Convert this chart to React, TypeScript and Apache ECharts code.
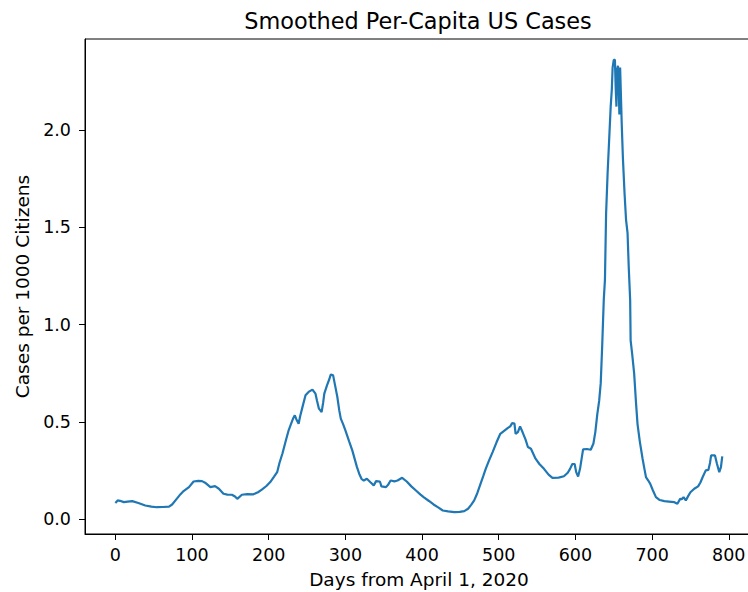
import React, { useEffect, useRef } from "react";
import * as echarts from "echarts";

const days = [
  0, 3, 6, 11, 16, 22, 30, 39, 47, 54, 62, 70, 74, 80, 85, 89, 96, 102, 108, 113,
  117, 124, 130, 135, 141, 146, 152, 156, 159, 165, 172, 180, 186, 191, 197, 202, 207, 211, 214, 218,
  222, 226, 229, 232, 234, 236, 239, 241, 244, 248, 252, 257, 261, 263, 265.5, 269, 271, 272.5, 276, 279,
  281, 284, 286.5, 289.5, 292, 294, 297, 300, 305, 309, 315, 318, 321, 324, 328, 333, 337, 340, 345, 347,
  353, 356, 359, 364, 368, 374, 380, 386, 392, 398, 402, 409, 415, 421, 427, 434, 442, 449, 455, 460,
  464, 468, 472, 476, 480, 483, 487, 492, 497, 502, 507, 512, 515, 517.5, 520.5, 522, 525, 527.8, 531, 535,
  538, 542, 548, 553, 559, 565, 570, 578, 585, 590, 593, 596, 599, 601, 603.5, 606, 608, 610, 615, 620,
  623.5, 626, 628.5, 631, 633, 635, 637, 638.5, 640, 642, 644, 646, 647.5, 648.5, 650, 651.5, 652.5, 653.5, 654.5, 655.5,
  656.5, 657.3, 658.3, 659.4, 660.4, 662, 664, 666, 668, 669.5, 671.4, 672, 674, 676.6, 679, 681, 684, 687.6, 690, 692,
  695, 697.6, 701, 705, 710, 716, 722, 729, 733, 736.6, 739, 741, 744, 747, 750, 755, 760, 763, 766, 770,
  773.5, 775.5, 777, 782, 784.6, 787.6, 789.8, 791.5,
];

const casesPer1000 = [
  0.085, 0.098, 0.096, 0.089, 0.092, 0.094, 0.085, 0.072, 0.066, 0.063, 0.064, 0.066, 0.077, 0.106, 0.13, 0.146, 0.166, 0.195, 0.198, 0.197,
  0.189, 0.166, 0.171, 0.158, 0.132, 0.128, 0.127, 0.118, 0.106, 0.127, 0.13, 0.129, 0.14, 0.153, 0.172, 0.192, 0.22, 0.243, 0.29, 0.34,
  0.4, 0.458, 0.49, 0.52, 0.535, 0.515, 0.492, 0.53, 0.577, 0.638, 0.655, 0.667, 0.646, 0.61, 0.569, 0.552, 0.6, 0.646, 0.689, 0.72,
  0.745, 0.74, 0.69, 0.629, 0.56, 0.518, 0.49, 0.458, 0.4, 0.355, 0.27, 0.235, 0.209, 0.2, 0.209, 0.19, 0.175, 0.197, 0.195, 0.17,
  0.166, 0.18, 0.2, 0.196, 0.2, 0.214, 0.195, 0.17, 0.149, 0.128, 0.115, 0.095, 0.077, 0.062, 0.046, 0.042, 0.038, 0.039, 0.043, 0.055,
  0.075, 0.098, 0.135, 0.18, 0.225, 0.26, 0.3, 0.346, 0.395, 0.44, 0.455, 0.47, 0.478, 0.495, 0.492, 0.44, 0.449, 0.478, 0.449, 0.41,
  0.372, 0.363, 0.312, 0.285, 0.26, 0.23, 0.214, 0.215, 0.222, 0.24, 0.26, 0.285, 0.285, 0.243, 0.221, 0.26, 0.31, 0.36, 0.362, 0.358,
  0.39, 0.45, 0.54, 0.61, 0.7, 0.9, 1.13, 1.23, 1.57, 1.78, 1.95, 2.12, 2.21, 2.32, 2.36, 2.36, 2.22, 2.12, 2.31, 2.33,
  2.22, 2.08, 2.32, 2.17, 2.03, 1.85, 1.68, 1.54, 1.47, 1.3, 1.126, 0.92, 0.85, 0.75, 0.6, 0.49, 0.4, 0.312, 0.26, 0.218,
  0.2, 0.183, 0.15, 0.115, 0.1, 0.094, 0.092, 0.089, 0.081, 0.106, 0.105, 0.115, 0.098, 0.12, 0.14, 0.158, 0.17, 0.19, 0.218, 0.252,
  0.255, 0.29, 0.329, 0.329, 0.286, 0.243, 0.269, 0.324,
];

const xTicks = [0, 100, 200, 300, 400, 500, 600, 700, 800];
const yTicks = [0, 0.5, 1, 1.5, 2];

const FONT = "DejaVu Sans";

export default function App() {
  const ref = useRef<HTMLDivElement>(null);
  useEffect(() => {
    const chart = echarts.init(ref.current!, null, { renderer: "svg" });
    const data = days.map((d, i) => [d, casesPer1000[i]]);
    chart.setOption({
      animation: false,
      backgroundColor: "#ffffff",
      title: {
        text: "Smoothed Per-Capita US Cases",
        left: 413,
        textAlign: "center",
        top: 5,
        textStyle: { fontFamily: FONT, fontSize: 22.4, fontWeight: "normal", color: "#000" },
      },
      grid: {
        left: 85,
        top: 39,
        width: 668,
        height: 495,
        show: true,
        borderColor: "#000",
        borderWidth: 1,
        containLabel: false,
        outerBoundsMode: "none",
      },
      xAxis: {
        type: "value",
        min: -39.6,
        max: 831.6,
        name: "Days from April 1, 2020",
        nameLocation: "middle",
        nameGap: 36,
        nameTextStyle: { fontFamily: FONT, fontSize: 18.5, color: "#000" },
        axisLine: { show: true, onZero: false, lineStyle: { color: "#000", width: 1 } },
        axisTick: { show: true, length: 6, lineStyle: { color: "#000" }, customValues: xTicks },
        axisLabel: {
          fontFamily: FONT,
          fontSize: 17.5,
          color: "#000",
          margin: 12,
          customValues: xTicks,
          formatter: (v: number) => String(v),
        },
        splitLine: { show: false },
      },
      yAxis: {
        type: "value",
        min: -0.0745,
        max: 2.467,
        name: "Cases per 1000 Citizens",
        nameLocation: "middle",
        nameGap: 53,
        nameRotate: 90,
        nameTextStyle: { fontFamily: FONT, fontSize: 18.5, color: "#000" },
        axisLine: { show: true, onZero: false, lineStyle: { color: "#000", width: 1 } },
        axisTick: { show: true, length: 6, lineStyle: { color: "#000" }, customValues: yTicks },
        axisLabel: {
          fontFamily: FONT,
          fontSize: 17.5,
          color: "#000",
          margin: 14,
          customValues: yTicks,
          formatter: (v: number) => v.toFixed(1),
        },
        splitLine: { show: false },
      },
      series: [
        {
          type: "line",
          data,
          showSymbol: false,
          symbol: "none",
          lineStyle: { color: "#1f77b4", width: 2.2 },
          clip: true,
        },
      ],
    });
    return () => chart.dispose();
  }, []);
  return (
    <div
      ref={ref}
      style={{ position: "fixed", left: 0, top: 0, width: 748, height: 592, background: "#fff" }}
    />
  );
}
